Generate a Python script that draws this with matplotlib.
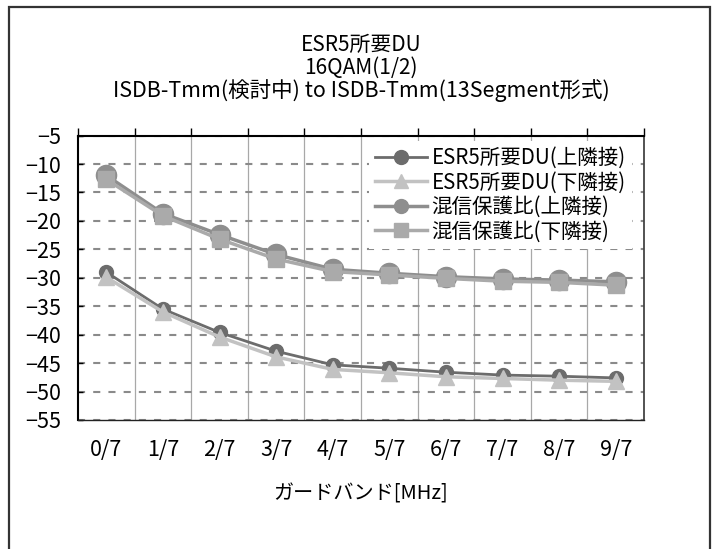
import numpy as np
import matplotlib
matplotlib.use("Agg")
import matplotlib.pyplot as plt
from matplotlib.patches import Rectangle

plt.rcParams["font.family"] = ["Noto Sans CJK JP", "DejaVu Sans"]
plt.rcParams["axes.unicode_minus"] = True

# data
cats = ["0/7", "1/7", "2/7", "3/7", "4/7", "5/7", "6/7", "7/7", "8/7", "9/7"]
du_up = [-29.0, -35.5, -39.6, -42.9, -45.3, -45.9, -46.6, -47.1, -47.3, -47.6]
du_dn = [-29.9, -36.0, -40.4, -43.9, -46.1, -46.7, -47.4, -47.7, -48.0, -48.2]
pr_up = [-12.0, -18.7, -22.4, -25.9, -28.5, -29.2, -29.8, -30.2, -30.4, -30.7]
pr_dn = [-12.7, -19.1, -23.2, -26.7, -28.9, -29.5, -30.1, -30.6, -30.8, -31.3]
labels = ["ESR5所要DU(上隣接)", "ESR5所要DU(下隣接)", "混信保護比(上隣接)", "混信保護比(下隣接)"]

W, H = 719, 549
fig = plt.figure(figsize=(W / 100, H / 100), dpi=100)
# outer frame of the chart object
fig.patches.append(Rectangle((9 / W, -0.05), 701 / W, 1.05 - 7 / H, transform=fig.transFigure,
                             fill=False, edgecolor="#333333", linewidth=1.6))

ax = fig.add_axes([78 / W, 1 - 420 / H, 566 / W, (420 - 135.6) / H])
x = np.arange(len(cats))

ax.plot(x, du_up, marker="o", color="#6c6c6c", lw=2.0, ms=10, label=labels[0], zorder=3)
ax.plot(x, du_dn, marker="^", color="#c2c2c2", lw=2.5, ms=11, label=labels[1], zorder=3)
ax.plot(x, pr_up, marker="o", color="#8e8e8e", lw=2.5, ms=14.5, label=labels[2], zorder=3)
ax.plot(x, pr_dn, marker="s", color="#aaaaaa", lw=2.5, ms=11, label=labels[3], zorder=3)

ax.set_xlim(-0.5, len(cats) - 0.5)
ax.set_ylim(-55, -5)
ax.set_yticks(np.arange(-55, -4, 5))
ax.set_xticks(x)
ax.set_xticklabels(cats)
ax.set_xticks(np.arange(-0.5, len(cats), 1.0), minor=True)

# grid: dashed horizontal, thin vertical at category boundaries
ax.grid(axis="y", color="#8a8a8a", lw=1.5, linestyle=(0, (3.4, 3.9)), zorder=1)
for b in np.arange(0.5, len(cats) - 1, 1.0):
    ax.axvline(b, color="#a8a8a8", lw=0.9, zorder=1)

ax.tick_params(axis="x", which="major", length=0, labelsize=15.5, pad=14)
ax.tick_params(axis="x", which="minor", bottom=False, top=True, direction="out",
               length=6, width=1.0, color="black")
ax.tick_params(axis="y", direction="in", length=3.5, width=1.0, labelsize=15.5, pad=12)

for s in ["left", "top"]:
    ax.spines[s].set_color("black")
    ax.spines[s].set_linewidth(1.5)
ax.spines["right"].set_color("#444444")
ax.spines["right"].set_linewidth(1.3)
ax.spines["bottom"].set_color("#222222")
ax.spines["bottom"].set_linewidth(1.0)

ax.set_xlabel("ガードバンド[MHz]", fontsize=14.5, labelpad=16)
fig.text(361 / W, 1 - 45 / H, "ESR5所要DU", ha="center", va="center", fontsize=15)
fig.text(361 / W, 1 - 68 / H, "16QAM(1/2)", ha="center", va="center", fontsize=15)
fig.text(361 / W, 1 - 91 / H, "ISDB-Tmm(検討中) to ISDB-Tmm(13Segment形式)",
         ha="center", va="center", fontsize=15.5)

# legend sits on a white box that hides the grid behind it
leg = ax.legend(loc="upper left", bbox_to_anchor=(369 / W, 1 - 141 / H),
                bbox_transform=fig.transFigure, frameon=True, fancybox=False,
                facecolor="white", edgecolor="none", framealpha=1.0, fontsize=14.8,
                handlelength=2.5, handletextpad=0.25, labelspacing=0.12,
                borderpad=0.3, borderaxespad=0)
leg.set_zorder(5)
for h, m in zip(leg.legend_handles, [10, 10, 10, 10]):
    h.set_markersize(m)

fig.savefig("out.png", dpi=100)
